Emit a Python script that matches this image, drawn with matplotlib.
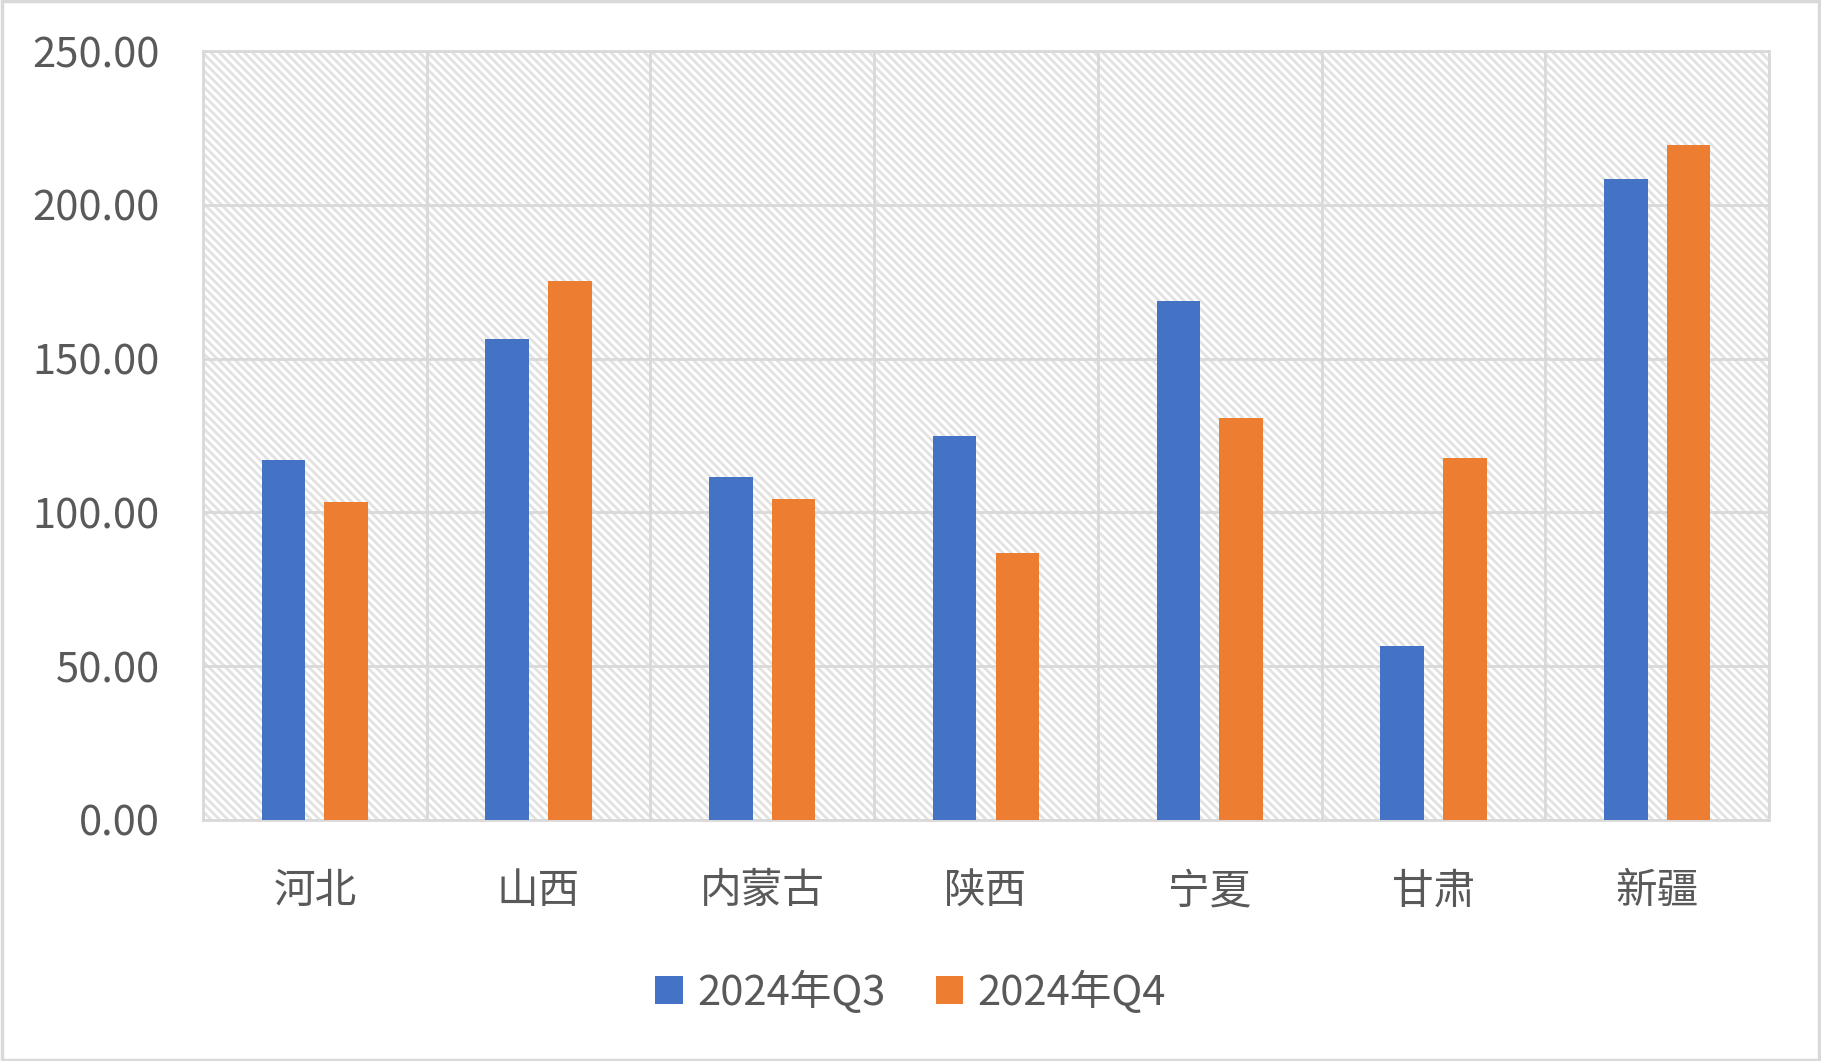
import matplotlib.pyplot as plt
import numpy as np
from matplotlib.patches import Rectangle

plt.rcParams['font.family'] = ['Noto Sans CJK SC', 'DejaVu Sans']
plt.rcParams['hatch.linewidth'] = 2.0

provinces = ['河北', '山西', '内蒙古', '陕西', '宁夏', '甘肃', '新疆']
q3 = [117.1, 156.3, 111.4, 125.0, 168.8, 56.6, 208.5]
q4 = [103.5, 175.2, 104.2, 86.9, 130.7, 117.8, 219.4]
series_names = ['2024年Q3', '2024年Q4']
yticks = [0, 50, 100, 150, 200, 250]

blue = '#4472c4'
orange = '#ed7d31'
grid_c = '#d9d9d9'
text_c = '#595959'

fig = plt.figure(figsize=(18.21, 10.61), dpi=100)
ax = fig.add_axes([203 / 1821, 1 - 820 / 1061, (1769 - 203) / 1821, (820 - 51) / 1061])

# hatched plot background
bg = Rectangle((0, 0), 1, 1, transform=ax.transAxes, facecolor='white',
               edgecolor='#e2e2e2', linewidth=0, hatch='\\\\\\\\', zorder=0)
ax.add_patch(bg)

x = np.arange(len(provinces))
w = 0.195
ax.bar(x - 0.14, q3, w, color=blue, label=series_names[0], zorder=3)
ax.bar(x + 0.14, q4, w, color=orange, label=series_names[1], zorder=3)

ax.set_xlim(-0.5, len(provinces) - 0.5)
ax.set_ylim(0, 250)
ax.set_yticks(yticks)
ax.set_yticklabels([f'{v:.2f}' for v in yticks])
ax.set_xticks(x)
ax.set_xticklabels(provinces)
ax.set_xticks(np.arange(len(provinces) + 1) - 0.5, minor=True)

ax.grid(axis='y', which='major', color=grid_c, linewidth=2, zorder=1)
ax.grid(axis='x', which='minor', color=grid_c, linewidth=2, zorder=1)
ax.set_axisbelow(False)

ax.tick_params(axis='both', which='both', length=0, labelsize=30, labelcolor=text_c)
ax.tick_params(axis='y', pad=31)
ax.tick_params(axis='x', pad=37)

for s in ax.spines.values():
    s.set_color(grid_c)
    s.set_linewidth(2)
    s.set_zorder(2)

fig.legend(loc='center', bbox_to_anchor=(0.5, 1 - 992 / 1061), ncol=2, frameon=False,
           fontsize=30, labelcolor=text_c, handlelength=0.65, handleheight=0.65,
           handletextpad=0.35, columnspacing=1.2)

fig.patches.append(Rectangle((0.001, 0.001), 0.998, 0.998, transform=fig.transFigure,
                             fill=False, edgecolor=grid_c, linewidth=2.5))

fig.savefig('out.png', dpi=100)
